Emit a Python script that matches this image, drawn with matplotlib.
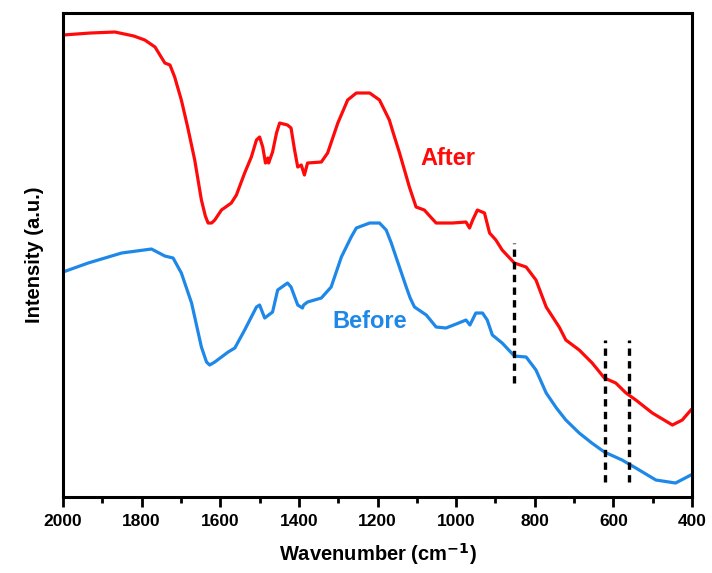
import matplotlib
matplotlib.use("Agg")
import matplotlib.pyplot as plt

# FTIR spectra (intensity in arbitrary units)
after_wn = [2000, 1930, 1868, 1820, 1792, 1766, 1741, 1728, 1716, 1699, 1683, 1665,
            1648, 1638, 1631, 1622, 1614, 1597, 1572, 1559, 1538, 1521, 1508, 1500,
            1492, 1485, 1479, 1477, 1467, 1457, 1449, 1429, 1420, 1411, 1403, 1394,
            1386, 1378, 1343, 1327, 1301, 1276, 1254, 1220, 1195, 1170, 1160, 1144,
            1130, 1119, 1102, 1081, 1065, 1051, 1009, 975, 966, 958, 946, 928, 915,
            899, 883, 852, 822, 797, 771, 738, 721, 687, 654, 623, 594, 568, 543,
            501, 450, 425, 403]
after_px = [35, 33, 32, 36, 40, 47, 63, 65, 77, 100, 127, 160,
            200, 216, 223, 223, 220, 210, 203, 195, 173, 157, 140, 137,
            147, 163, 158, 163, 152, 133, 123, 125, 128, 150, 167, 165,
            175, 163, 162, 153, 123, 100, 93, 93, 100, 120, 133, 153,
            172, 187, 207, 210, 217, 223, 223, 222, 228, 220, 210, 213, 233,
            240, 250, 263, 267, 280, 307, 327, 340, 350, 363, 378, 383, 393, 400,
            413, 425, 420, 410]

before_wn = [2000, 1936, 1851, 1775, 1741, 1720, 1699, 1673, 1648, 1635, 1627, 1614,
             1597, 1580, 1563, 1538, 1508, 1500, 1487, 1467, 1454, 1429, 1420, 1403,
             1391, 1388, 1378, 1343, 1318, 1292, 1267, 1254, 1220, 1195, 1178, 1165,
             1153, 1140, 1127, 1117, 1106, 1076, 1051, 1026, 1000, 975, 965, 950,
             933, 921, 908, 883, 852, 822, 797, 771, 745, 721, 687, 655, 623, 578,
             543, 492, 442, 403]
before_px = [272, 263, 253, 249, 256, 258, 273, 303, 347, 362, 365, 362,
             357, 352, 348, 330, 307, 305, 318, 312, 290, 283, 287, 305,
             308, 305, 302, 298, 287, 257, 237, 228, 223, 223, 230, 243,
             257, 272, 287, 298, 307, 315, 327, 328, 324, 320, 325, 313,
             313, 320, 335, 343, 356, 357, 370, 393, 408, 420, 433, 443, 452, 460,
             468, 480, 483, 475]

# convert image rows to an upward intensity scale
after_int = [497 - v for v in after_px]
before_int = [497 - v for v in before_px]

# marked bands (dashed guides)
mark_wn = [852, 622, 560]
mark_lo = [114, 15, 15]
mark_hi = [254, 157, 157]

RED = "#FF0A0A"
BLUE = "#1E88E8"

plt.rcParams["font.family"] = ["Liberation Sans", "DejaVu Sans"]
plt.rcParams["font.weight"] = "bold"

fig = plt.figure(figsize=(7.12, 5.73), dpi=100)
ax = fig.add_axes([0.0885, 0.1326, 0.8835, 0.8447])

ax.plot(after_wn, after_int, color=RED, lw=2.3, solid_joinstyle="round")
ax.plot(before_wn, before_int, color=BLUE, lw=2.3, solid_joinstyle="round")
ax.vlines(mark_wn, mark_lo, mark_hi, colors="black", lw=2.4,
          linestyles=(0, (2.2, 1.6)))

ax.text(1020, 339, "After", color=RED, fontsize=17, fontweight="bold",
        ha="center", va="center")
ax.text(1220, 176, "Before", color=BLUE, fontsize=17, fontweight="bold",
        ha="center", va="center")

ax.set_xlim(2000, 400)
ax.set_ylim(0, 484)
ax.set_xticks(range(2000, 399, -200))
ax.set_xticks(range(1900, 400, -200), minor=True)
ax.set_yticks([])
ax.tick_params(axis="x", which="major", direction="out", length=7, width=2,
               labelsize=12.5, pad=5)
ax.tick_params(axis="x", which="minor", direction="out", length=4, width=2)
for lab in ax.get_xticklabels():
    lab.set_fontweight("bold")
for sp in ax.spines.values():
    sp.set_linewidth(2.2)

ax.set_xlabel("Wavenumber (cm$^{\\mathbf{-1}}$)", fontsize=14.5, fontweight="bold",
              labelpad=9)
ax.set_ylabel("Intensity (a.u.)", fontsize=14.5, fontweight="bold", labelpad=14)

fig.savefig("out.png", dpi=100)
